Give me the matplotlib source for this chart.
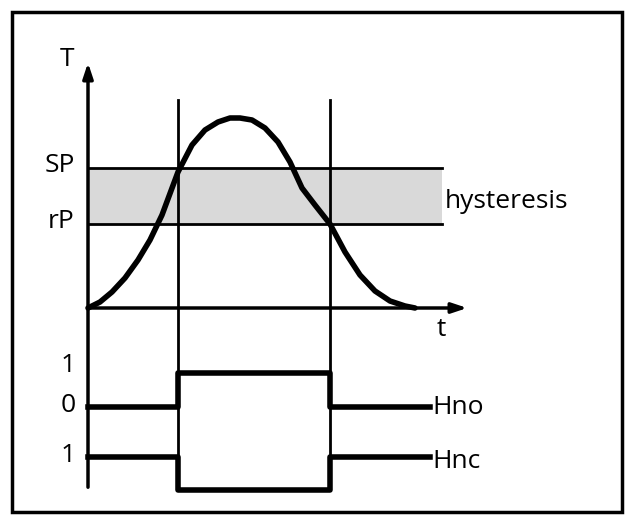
import matplotlib
matplotlib.use("Agg")
import matplotlib.pyplot as plt
from matplotlib.patches import Rectangle

# schematic values (pixel-space)
curve_x = [88, 100, 112, 125, 138, 150, 162, 178, 192, 205, 218, 230, 240, 252, 265, 278, 290, 302, 315, 330, 345, 360, 375, 390, 405, 415]
curve_y = [308, 302, 292, 278, 260, 240, 215, 172, 145, 130, 122, 118, 118, 120, 128, 142, 162, 188, 205, 224, 252, 275, 291, 301, 306, 308]
sp_y, rp_y = 168, 224
switch_x = [178, 330]
hno_x = [88, 178, 178, 330, 330, 430]
hno_y = [407, 407, 373, 373, 407, 407]
hnc_x = [88, 178, 178, 330, 330, 430]
hnc_y = [457, 457, 490, 490, 457, 457]

fig = plt.figure(figsize=(6.32, 5.23), dpi=100)
ax = fig.add_axes([0, 0, 1, 1])
ax.set_xlim(0, 632); ax.set_ylim(523, 0); ax.axis("off")
plt.rcParams['font.family'] = ['Open Sans', 'DejaVu Sans']

ax.add_patch(Rectangle((12, 12), 610, 500, fill=False, lw=2.5, ec="black"))
ax.add_patch(Rectangle((88, sp_y), 354, rp_y - sp_y, fc="#d9d9d9", ec="none"))
ax.plot([88, 442], [sp_y, sp_y], color="black", lw=2)
ax.plot([88, 442], [rp_y, rp_y], color="black", lw=2)
for x in switch_x:
    ax.plot([x, x], [100, 490], color="black", lw=2)
ax.annotate("", xy=(88, 60), xytext=(88, 490), arrowprops=dict(arrowstyle="-|>,head_width=0.3,head_length=0.9", lw=2.5, color="black"))
ax.annotate("", xy=(470, 308), xytext=(86, 308), arrowprops=dict(arrowstyle="-|>,head_width=0.3,head_length=0.9", lw=2.5, color="black"))
ax.plot(curve_x, curve_y, color="black", lw=4, solid_capstyle="round")
ax.plot(hno_x, hno_y, color="black", lw=4)
ax.plot(hnc_x, hnc_y, color="black", lw=4)

fs = 19
ax.text(67, 60, "T", fontsize=fs, ha="center", va="center")
ax.text(75, 166, "SP", fontsize=fs, ha="right", va="center")
ax.text(75, 222, "rP", fontsize=fs, ha="right", va="center")
ax.text(445, 202, "hysteresis", fontsize=fs, ha="left", va="center")
ax.text(441, 330, "t", fontsize=fs, ha="center", va="center")
ax.text(68, 365, "1", fontsize=fs, ha="center", va="center")
ax.text(68, 405, "0", fontsize=fs, ha="center", va="center")
ax.text(68, 455, "1", fontsize=fs, ha="center", va="center")
ax.text(432, 408, "Hno", fontsize=fs, ha="left", va="center")
ax.text(432, 461, "Hnc", fontsize=fs, ha="left", va="center")
fig.savefig("out.png", dpi=100)
